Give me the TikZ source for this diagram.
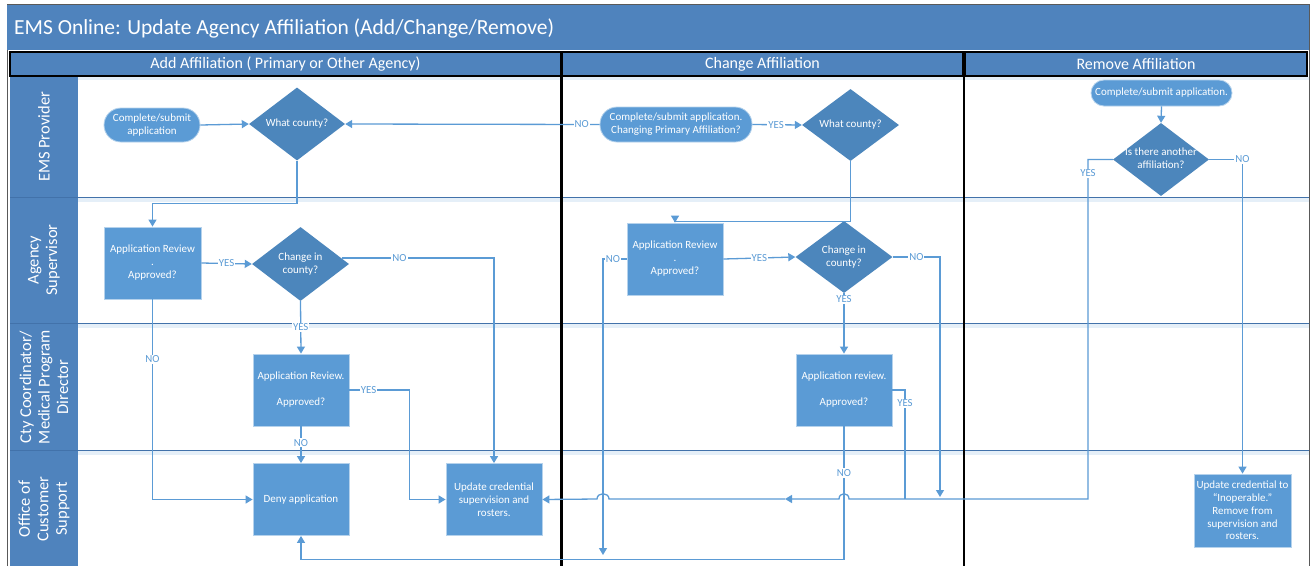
\documentclass[tikz,border=0pt]{standalone}
\usepackage{fontspec}
\setmainfont{Carlito}
\usetikzlibrary{shapes.geometric,arrows.meta,calc}

\definecolor{barblue}{RGB}{79,131,189}
\definecolor{boxblue}{RGB}{91,155,213}
\definecolor{diamblue}{RGB}{76,134,188}
\definecolor{sepblue}{RGB}{66,114,170}

% text set inside a diamond without widening it
\newcommand{\dtext}[1]{\makebox[0pt]{\begin{tabular}{@{}c@{}}#1\end{tabular}}}

\tikzset{
  conn/.style={draw=boxblue, line width=1.3pt},
  flow/.style={conn, -{Triangle[length=7pt,width=8pt]}},
  proc/.style={rectangle, fill=boxblue, draw=boxblue!45!white, line width=0.8pt,
    text=white, font=\fontsize{11}{13}\selectfont, align=center,
    minimum width=96pt, minimum height=72pt, inner sep=2pt},
  term/.style={proc, rounded corners=17pt, minimum height=35pt},
  dec/.style={diamond, fill=diamblue, text=white, font=\fontsize{11}{13}\selectfont,
    minimum width=96pt, minimum height=73pt, inner sep=0pt},
  lbl/.style={fill=white, text=boxblue, font=\fontsize{10.8}{12}\selectfont, inner sep=1pt},
  lane/.style={text=white, font=\fontsize{16.5}{18.5}\selectfont, align=center, rotate=90},
  head/.style={draw=black, line width=1.5pt, fill=barblue, text=white,
    font=\fontsize{16}{18}\selectfont, inner sep=0pt, minimum height=24pt},
}

\begin{document}
\begin{tikzpicture}[x=1pt,y=-1pt]
\useasboundingbox (0,0) rectangle (1312,566);
\fill[white] (0,0) rectangle (1312,566);

% outer frame
\draw[gray!70!black, line width=0.8pt] (7,566) -- (7,4) -- (1309,4) -- (1309,566);

% title bar
\node[fill=barblue, minimum width=1302pt, minimum height=45pt, inner sep=0pt, anchor=north west] (titlebar) at (7,5) {};
\node[text=white, font=\fontsize{21.5}{25}\selectfont, anchor=west, inner sep=0pt] (titletext) at (14,28) {EMS Online: Update Agency Affiliation (Add/Change/Remove)};

% lane label column
\fill[barblue] (10,76) rectangle (78,566);

% lane separators with their soft shadows
\fill[boxblue!16] (78,77) rectangle (1309,80);
\foreach \yy in {197,323,450} {
  \fill[boxblue!16] (78,\yy+1) rectangle (1309,\yy+5);
  \draw[sepblue, line width=1pt] (10,\yy) -- (1309,\yy);
}

% column dividers
\draw[black, line width=2.8pt] (561.5,52) -- (561.5,566);
\draw[black, line width=2.8pt] (964,52) -- (964,566);

% column headers
\node[head, minimum width=551pt] (hadd) at (285.5,64) {Add Affiliation ( Primary or Other Agency)};
\node[head, minimum width=401pt] (hchg) at (762.5,64) {Change Affiliation};
\node[head, minimum width=342pt] (hrem) at (1136,64) {Remove Affiliation};

% lane labels
\node[lane] (L1) at (44,137) {EMS Provider};
\node[lane] (L2) at (44,260) {Agency\\Supervisor};
\node[lane] (L3) at (44,387) {Cty Coordinator/\\Medical Program\\Director};
\node[lane] (L4) at (44,509) {Office of\\Customer\\Support};

% ---- Add affiliation
\node[term, minimum width=96pt, minimum height=34pt] (T1) at (152,125) {Complete/submit\\application};
\node[dec, minimum width=96pt] (D1) at (297,124) {\dtext{What county?}};
\node[proc, minimum width=97pt] (R1) at (152.5,263) {Application Review\\.\\Approved?};
\node[dec, minimum width=97pt, minimum height=74pt] (D2) at (300.5,264) {\dtext{Change in\\county?}};
\node[proc] (R3) at (301,390) {Application Review.\\[13pt]Approved?};
\node[proc] (R5) at (301,499.5) {Deny application};
\node[proc] (R4) at (494,499.5) {Update credential\\supervision and\\rosters.};

% ---- Change affiliation
\node[term, minimum width=152pt, minimum height=35pt] (T2) at (676,124.5) {Complete/submit application.\\Changing Primary Affiliation?};
\node[dec, minimum width=97pt, minimum height=72pt] (D3) at (850.5,125) {\dtext{What county?}};
\node[proc] (R6) at (675,259) {Application Review\\.\\Approved?};
\node[dec, minimum width=97pt, minimum height=72pt] (D4) at (844,257) {\dtext{Change in\\county?}};
\node[proc] (R7) at (844,390) {Application review.\\[13pt]Approved?};

% ---- Remove affiliation
\node[term, minimum width=141pt, minimum height=26pt, rounded corners=13pt] (T3) at (1161.5,93) {Complete/submit application.};
\node[dec, minimum width=96pt, minimum height=73pt] (D5) at (1161,159.5) {\dtext{Is there another\\affiliation?}};
\node[proc, minimum width=97pt, minimum height=73pt, font=\fontsize{11}{12.8}\selectfont] (R8) at (1242.5,510.5) {Update credential to\\“Inoperable.”\\Remove from\\supervision and\\rosters.};

% free ends and joins
\coordinate (r6end) at (603,555);
\coordinate (d4end) at (940,497);
\coordinate (join7) at (905,499);
\coordinate (yesR) at (1088,499);
\coordinate (midtip) at (785,499);

% ---- connectors, Add column
\draw[flow] (T1.east) -- (D1.west);
\draw[flow] (D1.south) -- ++(0,43) -| (R1.north);
\draw[flow] (R1.east) -- node[lbl]{YES} (D2.west);
\draw[flow] ($(D2.center)+(41,-6)$) -| node[lbl, pos=0.19]{NO} (R4.north);
\draw[flow] (D2.south) -- node[lbl, pos=0.5]{YES} (R3.north);
\draw[flow] (R3.east) -- node[lbl, pos=0.32]{YES} ++(60,0) |- (R4.west);
\draw[flow] (R3.south) -- node[lbl, pos=0.45]{NO} (R5.north);
\draw[flow] (R1.south) |- node[lbl, pos=0.15]{NO} (R5.west);

% ---- connectors, Change column
\draw[flow] (T2.west) -- node[lbl, pos=0.07]{NO} (D1.east);
\draw[flow] (T2.east) -- node[lbl, pos=0.48]{YES} (D3.west);
\draw[flow] (D3.south) -- ++(0,60) -| (R6.north);
\draw[flow] (R6.east) -- node[lbl]{YES} (D4.west);
\draw[flow] (R6.west) -- node[lbl, pos=0.58]{NO} (r6end |- R6.west) -- (r6end);
\draw[flow] (D4.south) -- node[lbl, pos=0.1]{YES} (R7.north);
\draw[flow] (D4.east) -| node[lbl, pos=0.25]{NO} (d4end);
\draw[conn] (R7.east) -| node[lbl, pos=0.56]{YES} (join7);
\draw[flow] (R7.south) -- node[lbl, pos=0.35]{NO} ++(0,133) -| (R5.south);

% ---- connectors, Remove column
\draw[flow] (T3.south) -- (D5.north);
\draw[flow] (D5.east) -| node[lbl, pos=0.5]{NO} (R8.north);
\draw[flow] (D5.west) -| node[lbl, pos=0.52]{YES} (yesR) -- (849,499)
  .. controls (849,492) and (839,492) .. (839,499) -- (midtip);
\draw[flow] (midtip) -- (609,499)
  .. controls (609,492) and (597,492) .. (597,499) -- (R4.east);

\end{tikzpicture}
\end{document}
